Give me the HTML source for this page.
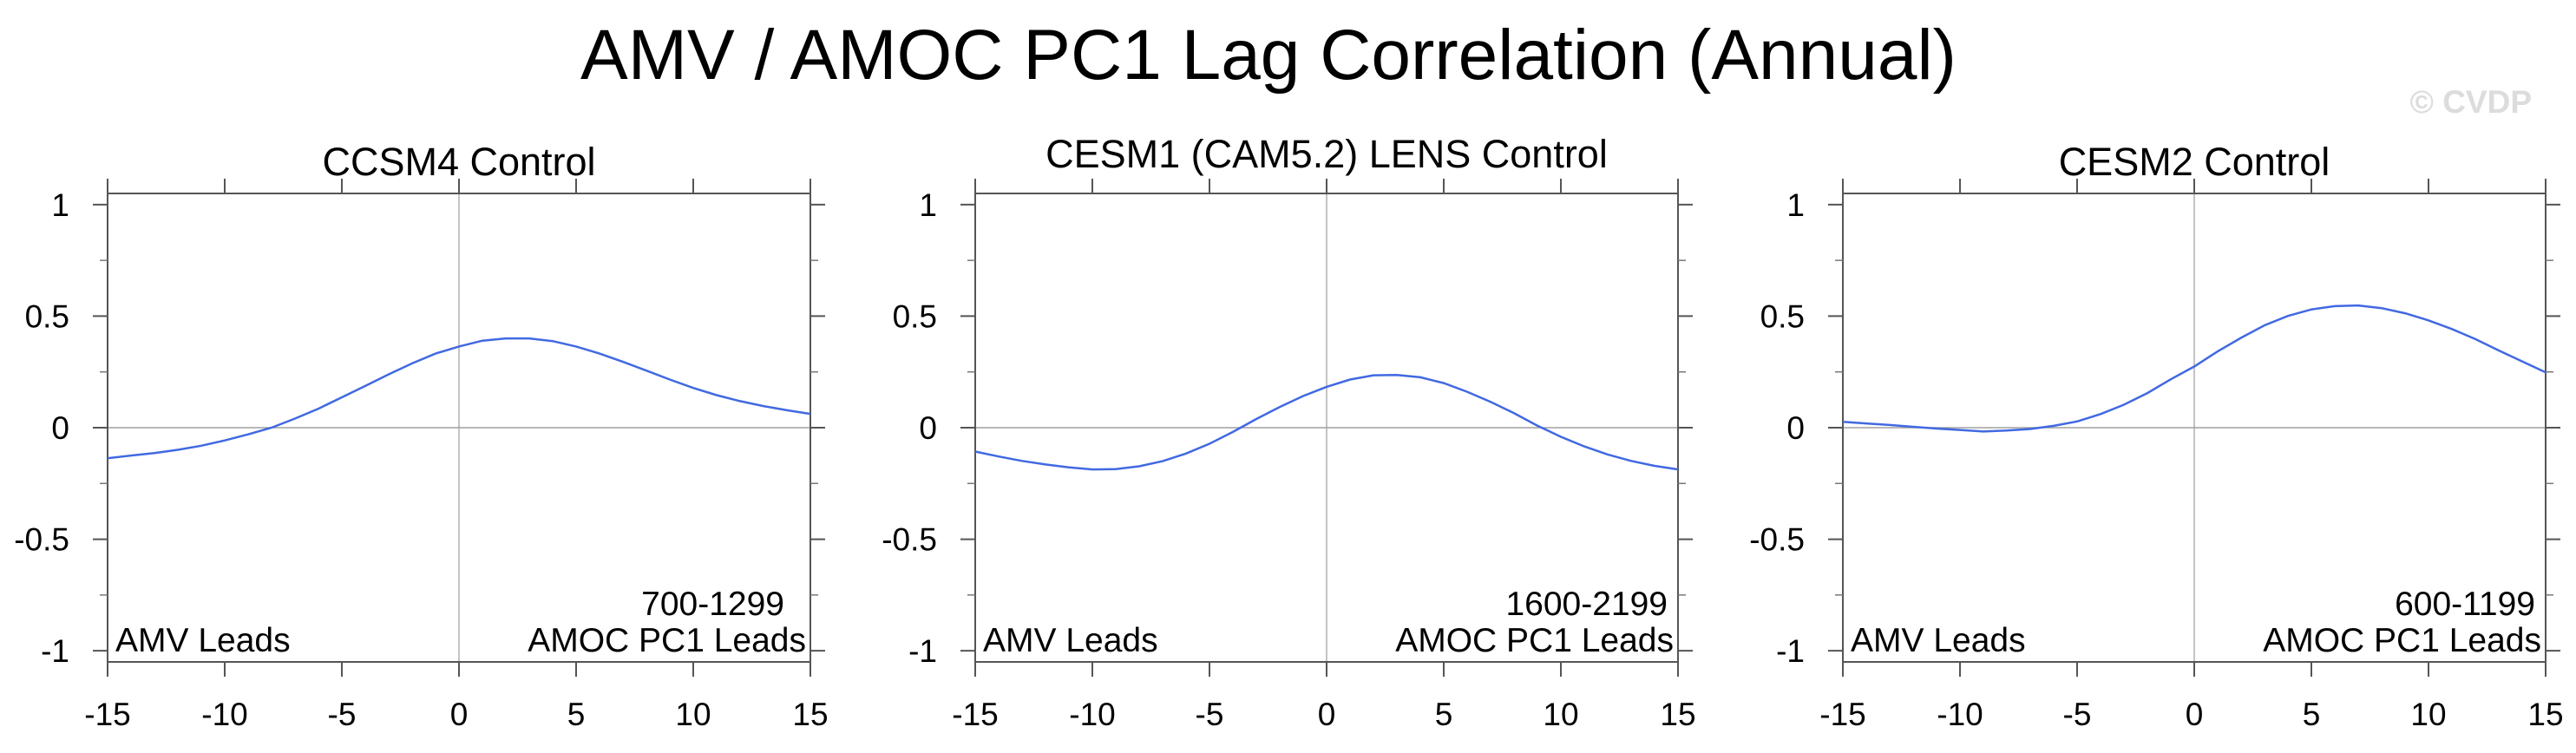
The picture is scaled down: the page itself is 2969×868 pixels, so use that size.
<!DOCTYPE html>
<html><head><meta charset="utf-8"><style>
html,body{margin:0;padding:0;background:#fff;}
svg{display:block;font-family:"Liberation Sans",Arial,sans-serif;}
</style></head><body>
<svg id="chart" width="2969" height="868" viewBox="0 0 2969 868" xmlns="http://www.w3.org/2000/svg">
<text x="1462" y="91" font-size="82" text-anchor="middle" fill="#000">AMV / AMOC PC1 Lag Correlation (Annual)</text>
<text x="2918" y="130" font-size="37" font-weight="bold" text-anchor="end" fill="#dcdcdc">© CVDP</text>
</svg>
<script>
const lags = [-15,-14,-13,-12,-11,-10,-9,-8,-7,-6,-5,-4,-3,-2,-1,0,1,2,3,4,5,6,7,8,9,10,11,12,13,14,15];
const ccsm4Values = [-0.137,-0.125,-0.114,-0.099,-0.081,-0.057,-0.030,0.000,0.041,0.085,0.136,0.187,0.239,0.288,0.332,0.364,0.390,0.400,0.400,0.388,0.364,0.332,0.295,0.256,0.216,0.178,0.146,0.119,0.097,0.078,0.062];
const cesm1Values = [-0.107,-0.129,-0.149,-0.165,-0.178,-0.187,-0.186,-0.173,-0.150,-0.116,-0.072,-0.019,0.039,0.093,0.142,0.183,0.216,0.235,0.236,0.226,0.200,0.161,0.116,0.065,0.009,-0.041,-0.084,-0.120,-0.149,-0.171,-0.187];
const cesm2Values = [0.026,0.019,0.012,0.004,-0.004,-0.010,-0.017,-0.013,-0.006,0.008,0.028,0.061,0.103,0.155,0.217,0.274,0.342,0.403,0.459,0.501,0.530,0.545,0.548,0.536,0.513,0.481,0.442,0.397,0.346,0.297,0.248];
const panelTitles = ["CCSM4 Control","CESM1 (CAM5.2) LENS Control","CESM2 Control"];
const panelYears = ["700-1299","1600-2199","600-1199"];
const xTickValues = [-15,-10,-5,0,5,10,15];
const xTickLabels = ["-15","-10","-5","0","5","10","15"];
const yTickValues = [-1,-0.5,0,0.5,1];
const yTickLabels = ["-1","-0.5","0","0.5","1"];
const yMinorValues = [-0.75,-0.25,0.25,0.75];

const NS="http://www.w3.org/2000/svg";
const svg=document.getElementById('chart');
function mk(tag,attrs,parent){const e=document.createElementNS(NS,tag);for(const k in attrs)e.setAttribute(k,attrs[k]);(parent||svg).appendChild(e);return e;}
const series=[ccsm4Values,cesm1Values,cesm2Values];
const lefts=[124,1124,2124];
const W=810, plotTop=223, plotBottom=763;
const titleY=[202,193,202];
const yearPad=[30,12,12];
for(let p=0;p<3;p++){
  const L=lefts[p], R=L+W;
  const xs=v=>L+(v+15)/30*W;
  const ys=v=>plotTop+(1.05-v)/2.1*(plotBottom-plotTop);
  const g=mk('g',{});
  
  
  const t=mk('text',{x:(L+R)/2,y:titleY[p],'font-size':45,'text-anchor':'middle',fill:'#000'},g);
  t.textContent=panelTitles[p];
  
  
  const gz=mk('line',{x1:xs(0),x2:xs(0),y1:plotTop,y2:plotBottom,stroke:'#b0b0b0','stroke-width':1.5},g);
  
  
  const hz=mk('line',{x1:L,x2:R,y1:ys(0),y2:ys(0),stroke:'#a0a0a0','stroke-width':1.5},g);
  
  
  const fr=mk('rect',{x:L,y:plotTop,width:W,height:plotBottom-plotTop,fill:'none',stroke:'#555','stroke-width':2},g);
  
  
  xTickValues.forEach((v,i)=>{
    const x=xs(v);
    mk('line',{x1:x,x2:x,y1:plotBottom,y2:plotBottom+17,stroke:'#555','stroke-width':2},g);
    mk('line',{x1:x,x2:x,y1:plotTop,y2:plotTop-17,stroke:'#555','stroke-width':2},g);
    const tl=mk('text',{x:x,y:836,'font-size':37,'text-anchor':'middle',fill:'#000'},g);
    tl.textContent=xTickLabels[i];
    
    
  });
  yTickValues.forEach((v,i)=>{
    const y=ys(v);
    mk('line',{x1:L,x2:L-17,y1:y,y2:y,stroke:'#555','stroke-width':2},g);
    mk('line',{x1:R,x2:R+17,y1:y,y2:y,stroke:'#555','stroke-width':2},g);
    const tl=mk('text',{x:L-44,y:y+13,'font-size':37,'text-anchor':'end',fill:'#000'},g);
    tl.textContent=yTickLabels[i];
    
    
  });
  yMinorValues.forEach(v=>{
    const y=ys(v);
    mk('line',{x1:L,x2:L-9,y1:y,y2:y,stroke:'#777','stroke-width':1.5},g);
    mk('line',{x1:R,x2:R+9,y1:y,y2:y,stroke:'#777','stroke-width':1.5},g);
  });
  const vals=series[p];
  const d=lags.map((l,i)=>(i?'L':'M')+xs(l).toFixed(1)+' '+ys(vals[i]).toFixed(1)).join(' ');
  const path=mk('path',{d:d,fill:'none',stroke:'#4169e1','stroke-width':2.5},g);
  
  
  const a=mk('text',{x:L+9,y:751,'font-size':39,fill:'#000'},g);
  a.textContent='AMV Leads';
  
  
  const b=mk('text',{x:R-5,y:751,'font-size':39,'text-anchor':'end',fill:'#000'},g);
  b.textContent='AMOC PC1 Leads';
  
  
  const c=mk('text',{x:R-yearPad[p],y:709,'font-size':39,'text-anchor':'end',fill:'#000'},g);
  c.textContent=panelYears[p];
  
  
}
</script>
</body></html>
